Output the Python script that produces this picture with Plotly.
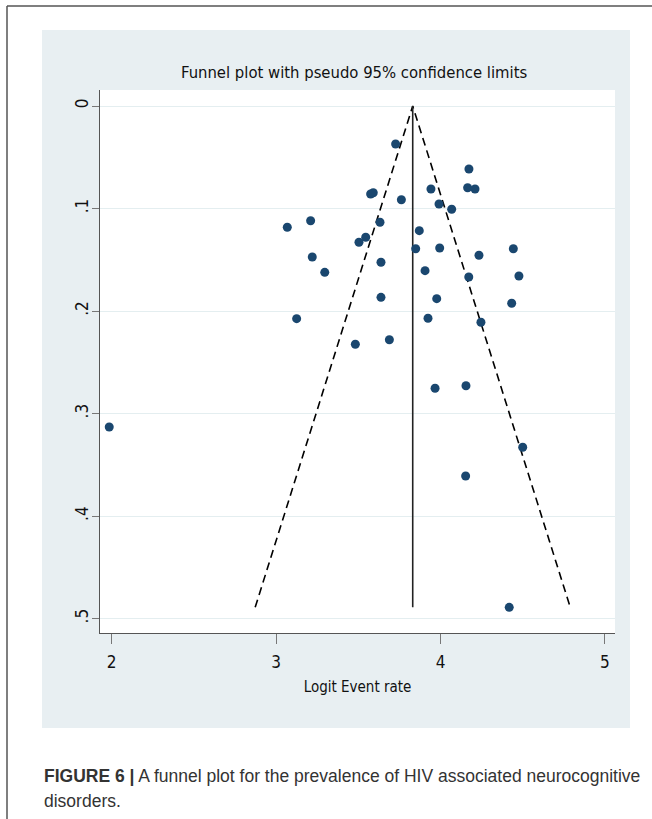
import plotly.graph_objects as go

# Study estimates: logit event rate and its standard error
logit_rate = [3.727, 4.173, 3.575, 3.591, 3.942, 4.165, 4.210, 3.762, 3.991, 4.068,
              3.068, 3.210, 3.632, 3.871, 3.504, 3.545, 3.849, 3.995, 4.443, 3.220,
              4.234, 3.638, 3.296, 3.906, 4.172, 4.477, 3.638, 3.977, 4.433, 3.125,
              3.924, 4.246, 3.482, 3.689, 3.967, 4.155, 4.500, 4.153, 4.418, 1.985]
std_err = [0.0371, 0.0614, 0.0858, 0.0846, 0.0809, 0.0797, 0.0809, 0.0914, 0.0956, 0.1007,
           0.1183, 0.1119, 0.1134, 0.1216, 0.1329, 0.1280, 0.1392, 0.1385, 0.1392, 0.1473,
           0.1456, 0.1524, 0.1622, 0.1606, 0.1668, 0.1658, 0.1866, 0.1879, 0.1924, 0.2074,
           0.2070, 0.2109, 0.2324, 0.2280, 0.2753, 0.2728, 0.3328, 0.3608, 0.4889, 0.3131]

pooled = 3.831          # pooled logit event rate
z95 = 1.96
se_max = max(std_err)

x_ticks = [2, 3, 4, 5]
y_ticks = [0, 0.1, 0.2, 0.3, 0.4, 0.5]
y_tick_text = ["0", ".1", ".2", ".3", ".4", ".5"]

W, H = 652, 819
L, R, T, B = 100, 615, 90, 633   # plot area in pixels


def px(p):
    return (p - L) / (R - L)


def py(p):
    return (B - p) / (B - T)


NARROW = "DejaVu Sans Condensed, Liberation Sans Narrow, Liberation Sans, sans-serif"
CAPTION = "Liberation Sans, Arial, sans-serif"
NAVY = "#1a476f"

fig = go.Figure()

# pseudo 95% confidence limits
fig.add_trace(go.Scatter(
    x=[pooled - z95 * se_max, pooled, pooled + z95 * se_max],
    y=[se_max, 0, se_max],
    mode="lines",
    line=dict(color="black", width=1.6, dash="8px,5px"),
    hoverinfo="skip", showlegend=False,
))
# pooled estimate
fig.add_trace(go.Scatter(
    x=[pooled, pooled], y=[0, se_max],
    mode="lines", line=dict(color="#222222", width=1.6),
    hoverinfo="skip", showlegend=False,
))
# studies
fig.add_trace(go.Scatter(
    x=logit_rate, y=std_err, mode="markers",
    marker=dict(color=NAVY, size=9, line=dict(width=0)),
    showlegend=False,
))

shapes = [
    # light panel behind the graph
    dict(type="rect", xref="paper", yref="paper", layer="below",
         x0=px(42), x1=px(630), y0=py(728), y1=py(30),
         fillcolor="#e8eff2", line=dict(width=0)),
    # white plot region
    dict(type="rect", xref="paper", yref="paper", layer="below",
         x0=0, x1=1, y0=0, y1=1, fillcolor="white", line=dict(width=0)),
    # outer frame
    dict(type="line", xref="paper", yref="paper",
         x0=px(7), x1=px(7), y0=py(6), y1=py(830),
         line=dict(color="#555555", width=1.5)),
    dict(type="line", xref="paper", yref="paper",
         x0=px(7), x1=px(660), y0=py(6), y1=py(6),
         line=dict(color="#555555", width=1.5)),
]

annotations = [
    dict(text="Funnel plot with pseudo 95% confidence limits",
         xref="paper", yref="paper", x=px(354), y=py(72),
         xanchor="center", yanchor="middle", showarrow=False,
         font=dict(family=NARROW, size=16.5, color="#111111")),
    dict(text="<b>FIGURE 6 |</b> A funnel plot for the prevalence of HIV associated neurocognitive",
         xref="paper", yref="paper", x=px(42), y=py(776),
         xanchor="left", yanchor="middle", showarrow=False,
         font=dict(family=CAPTION, size=17.5, color="#333333")),
    dict(text="disorders.",
         xref="paper", yref="paper", x=px(42), y=py(801),
         xanchor="left", yanchor="middle", showarrow=False,
         font=dict(family=CAPTION, size=17.5, color="#333333")),
]

fig.update_layout(
    width=W, height=H,
    margin=dict(l=L, r=W - R, t=T, b=H - B, pad=0),
    paper_bgcolor="white", plot_bgcolor="white",
    shapes=shapes, annotations=annotations,
    xaxis=dict(
        range=[2 + (L - 111.7) / 164.4, 2 + (R - 111.7) / 164.4],
        tickmode="array", tickvals=x_ticks, ticktext=[str(v) for v in x_ticks],
        ticks="outside", ticklen=10, tickwidth=1, tickcolor="#777777",
        showline=True, linecolor="#555555", linewidth=1,
        showgrid=False, zeroline=False,
        ticklabelstandoff=4,
        tickfont=dict(family=NARROW, size=17, color="#111111"),
        title=dict(text="Logit Event rate", standoff=10,
                   font=dict(family=NARROW, size=15, color="#111111")),
    ),
    yaxis=dict(
        range=[(B - 106) / 1025.4, (T - 106) / 1025.4],
        tickmode="array", tickvals=y_ticks, ticktext=y_tick_text,
        tickangle=-90,
        ticks="outside", ticklen=7, tickwidth=1, tickcolor="#777777",
        showline=True, linecolor="#555555", linewidth=1,
        showgrid=True, gridcolor="#e4eef0", gridwidth=1, zeroline=False,
        ticklabelstandoff=-3,
        tickfont=dict(family=NARROW, size=17, color="#111111"),
    ),
)

fig.write_html("out.html")
